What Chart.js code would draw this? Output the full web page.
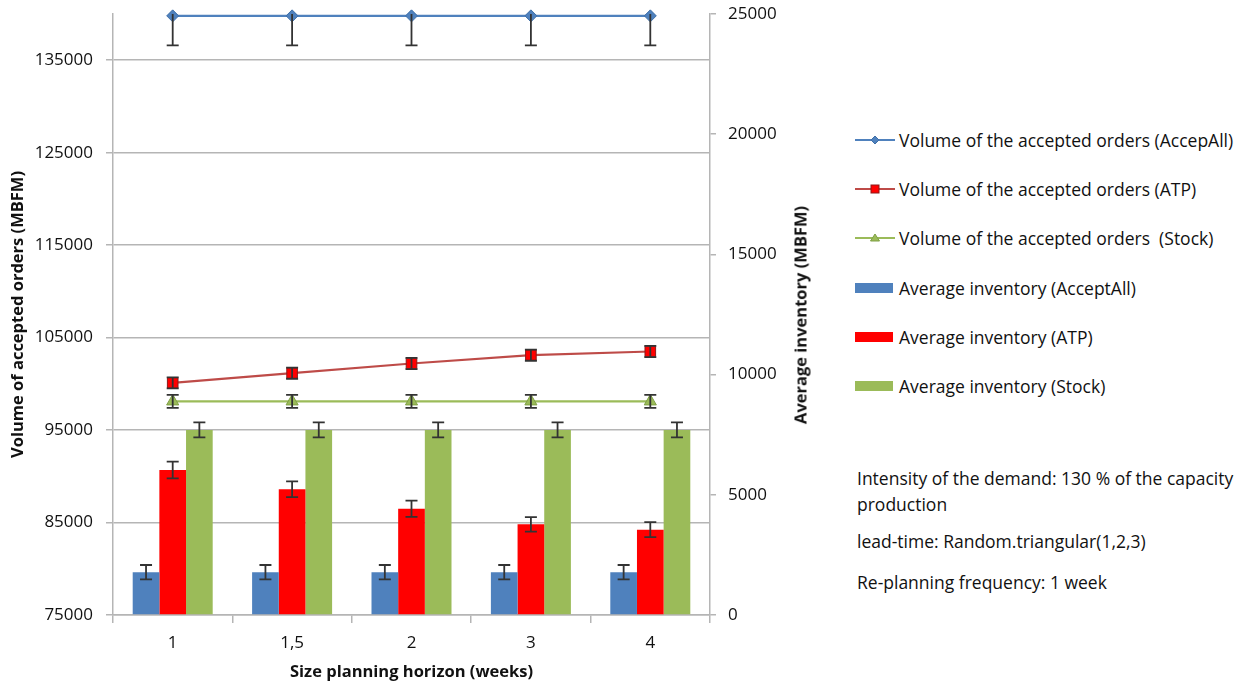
<!DOCTYPE html>
<html>
<head>
<meta charset="utf-8">
<script src="https://cdn.jsdelivr.net/npm/chart.js@4.4.1/dist/chart.umd.min.js"></script>
<style>
  body { margin: 0; background: #fff; font-family: "Open Sans", sans-serif; color: #111; }
  #page { position: relative; width: 1250px; height: 686px; overflow: hidden; }
  #chartBox { position: absolute; left: 0; top: 0; width: 795px; height: 686px; }
  #rightTitle { position: absolute; left: 800px; top: 315px; transform: translate(-50%, -50%) rotate(-90deg);
    white-space: nowrap; font-weight: bold; font-size: 16.5px; }
  #legend { position: absolute; left: 855px; top: 115px; font-size: 17.5px; }
  .item { height: 49.3px; display: flex; align-items: center; white-space: nowrap; }
  .item svg { margin-right: 4px; }
  #notes { position: absolute; left: 857px; top: 465px; font-size: 17.5px; line-height: 26px; }
  #notes p { margin: 0 0 11px 0; }
</style>
</head>
<body>
<div id="page">
  <div id="chartBox"><canvas id="c"></canvas></div>
  <div id="rightTitle">Average inventory (MBFM)</div>
  <div id="legend"></div>
  <div id="notes">
    <p>Intensity of the demand: 130 % of the capacity<br>production</p>
    <p>lead-time: Random.triangular(1,2,3)</p>
    <p style="margin-top:15px">Re-planning frequency: 1 week</p>
  </div>
</div>
<script>
const categories = ['1', '1,5', '2', '3', '4'];

// volume of accepted orders (left axis)
const volAccepAll = [139800, 139800, 139800, 139800, 139800];
const volAccepAllErr = [3200, 3200, 3200, 3200, 3200];
const volATP = [100100, 101150, 102200, 103100, 103500];
const volATPErr = [600, 600, 600, 600, 600];
const volStock = [98100, 98100, 98100, 98100, 98100];
const volStockErr = [700, 700, 700, 700, 700];

// average inventory (right axis)
const invAcceptAll = [1780, 1780, 1780, 1780, 1780];
const invAcceptAllErr = [300, 300, 300, 300, 300];
const invATP = [6030, 5230, 4420, 3770, 3550];
const invATPErr = [350, 330, 340, 300, 310];
const invStock = [7700, 7700, 7700, 7700, 7700];
const invStockErr = [310, 310, 310, 310, 310];

const leftTicks = [75000, 85000, 95000, 105000, 115000, 125000, 135000];
const rightTicks = [0, 5000, 10000, 15000, 20000, 25000];

const gridColor = '#b5b5b5';
const tickFont = {family: 'Open Sans', size: 17};
const titleFont = {family: 'Open Sans', size: 16.5, weight: 'bold'};
const plain = v => String(v);

const errorBars = {
    id: 'errorBars',
    afterDatasetsDraw(chart) {
        const {ctx, chartArea} = chart;
        ctx.save();
        ctx.beginPath();
        ctx.rect(chartArea.left, chartArea.top, chartArea.right - chartArea.left, chartArea.bottom - chartArea.top);
        ctx.clip();
        ctx.strokeStyle = '#333';
        ctx.lineWidth = 1.8;
        chart.data.datasets.forEach((ds, i) => {
            if (!ds.errors) return;
            const meta = chart.getDatasetMeta(i);
            const scale = chart.scales[ds.yAxisID];
            meta.data.forEach((el, j) => {
                const x = el.x;
                const yTop = scale.getPixelForValue(ds.data[j] + ds.errors[j]);
                const yBot = scale.getPixelForValue(ds.data[j] - ds.errors[j]);
                ctx.beginPath();
                ctx.moveTo(x, yTop); ctx.lineTo(x, yBot);
                ctx.moveTo(x - 6, yTop); ctx.lineTo(x + 6, yTop);
                ctx.moveTo(x - 6, yBot); ctx.lineTo(x + 6, yBot);
                ctx.stroke();
            });
        });
        ctx.restore();
    }
};

const datasets = [
    {type: 'line', label: 'Volume of the accepted orders (AccepAll)', data: volAccepAll, errors: volAccepAllErr,
        yAxisID: 'y', borderColor: '#4F81BD', backgroundColor: '#4F81BD', borderWidth: 2.2,
        pointStyle: 'rectRot', pointRadius: 6, pointBorderColor: '#3f6fa8', pointBorderWidth: 1, order: 0, clip: false},
    {type: 'line', label: 'Volume of the accepted orders (ATP)', data: volATP, errors: volATPErr,
        yAxisID: 'y', borderColor: '#BE4B48', backgroundColor: '#FF0000', borderWidth: 2.2,
        pointStyle: 'rect', pointRadius: 7.5, pointBorderColor: '#8a1a1a', pointBorderWidth: 1, order: 0},
    {type: 'line', label: 'Volume of the accepted orders  (Stock)', data: volStock, errors: volStockErr,
        yAxisID: 'y', borderColor: '#9BBB59', backgroundColor: '#9BBB59', borderWidth: 2.2,
        pointStyle: 'triangle', pointRadius: 7, pointBorderColor: '#7f9f45', pointBorderWidth: 1, order: 0},
    {type: 'bar', label: 'Average inventory (AcceptAll)', data: invAcceptAll, errors: invAcceptAllErr,
        yAxisID: 'y1', backgroundColor: '#4F81BD', order: 1},
    {type: 'bar', label: 'Average inventory (ATP)', data: invATP, errors: invATPErr,
        yAxisID: 'y1', backgroundColor: '#FF0000', order: 1},
    {type: 'bar', label: 'Average inventory (Stock)', data: invStock, errors: invStockErr,
        yAxisID: 'y1', backgroundColor: '#9BBB59', order: 1}
];

new Chart(document.getElementById('c'), {
    data: {labels: categories, datasets: datasets},
    plugins: [errorBars],
    options: {
        responsive: true,
        maintainAspectRatio: false,
        animation: false,
        layout: {padding: {left: 0, right: 0, top: 14, bottom: 0}},
        datasets: {bar: {categoryPercentage: 0.67, barPercentage: 1.0}},
        plugins: {legend: {display: false}, tooltip: {enabled: false}},
        scales: {
            x: {
                afterFit: s => { s.height = 71; },
                grid: {offset: true, drawOnChartArea: false, tickLength: 8, color: gridColor, lineWidth: 1.5},
                border: {color: gridColor, width: 1.5},
                ticks: {font: tickFont, color: '#111', padding: 10},
                title: {display: true, text: 'Size planning horizon (weeks)', font: titleFont, color: '#111', padding: {top: 0, bottom: 4}}
            },
            y: {
                position: 'left', min: 75000, max: 140000,
                afterBuildTicks: s => { s.ticks = leftTicks.map(v => ({value: v})); },
                afterFit: s => { s.width = 113; s.paddingTop = 0; s.paddingBottom = 0; },
                grid: {color: gridColor, lineWidth: 1.5, tickLength: 7},
                border: {color: gridColor, width: 1.5},
                ticks: {font: tickFont, color: '#111', padding: 13, callback: plain},
                title: {display: true, text: 'Volume of accepted orders (MBFM)', font: titleFont, color: '#111', padding: {top: 8, bottom: 0}}
            },
            y1: {
                position: 'right', min: 0, max: 25000,
                afterBuildTicks: s => { s.ticks = rightTicks.map(v => ({value: v})); },
                afterFit: s => { s.width = 85; s.paddingTop = 0; s.paddingBottom = 0; },
                grid: {drawOnChartArea: false, color: gridColor, lineWidth: 1.5, tickLength: 6},
                border: {color: gridColor, width: 1.5},
                ticks: {font: tickFont, color: '#111', padding: 12, callback: plain}
            }
        }
    }
});

// legend built from the dataset definitions
const legendBox = document.getElementById('legend');
datasets.forEach(ds => {
    let svg;
    if (ds.type === 'line') {
        let marker;
        if (ds.pointStyle === 'rectRot') marker = '<polygon points="20,3 24,7 20,11 16,7" fill="' + ds.backgroundColor + '" stroke="' + ds.pointBorderColor + '"/>';
        else if (ds.pointStyle === 'rect') marker = '<rect x="16" y="3" width="8" height="8" fill="' + ds.backgroundColor + '" stroke="' + ds.pointBorderColor + '"/>';
        else marker = '<polygon points="20,3 24.5,10 15.5,10" fill="' + ds.backgroundColor + '" stroke="' + ds.pointBorderColor + '"/>';
        svg = '<svg width="40" height="14"><line x1="0" y1="7" x2="40" y2="7" stroke="' + ds.borderColor + '" stroke-width="2"/>' + marker + '</svg>';
    } else {
        svg = '<svg width="40" height="14"><rect x="0" y="2" width="38" height="10" fill="' + ds.backgroundColor + '"/></svg>';
    }
    const div = document.createElement('div');
    div.className = 'item';
    div.innerHTML = svg + '<span>' + ds.label.replace(/  /g, ' &nbsp;') + '</span>';
    legendBox.appendChild(div);
});
</script>
</body>
</html>
